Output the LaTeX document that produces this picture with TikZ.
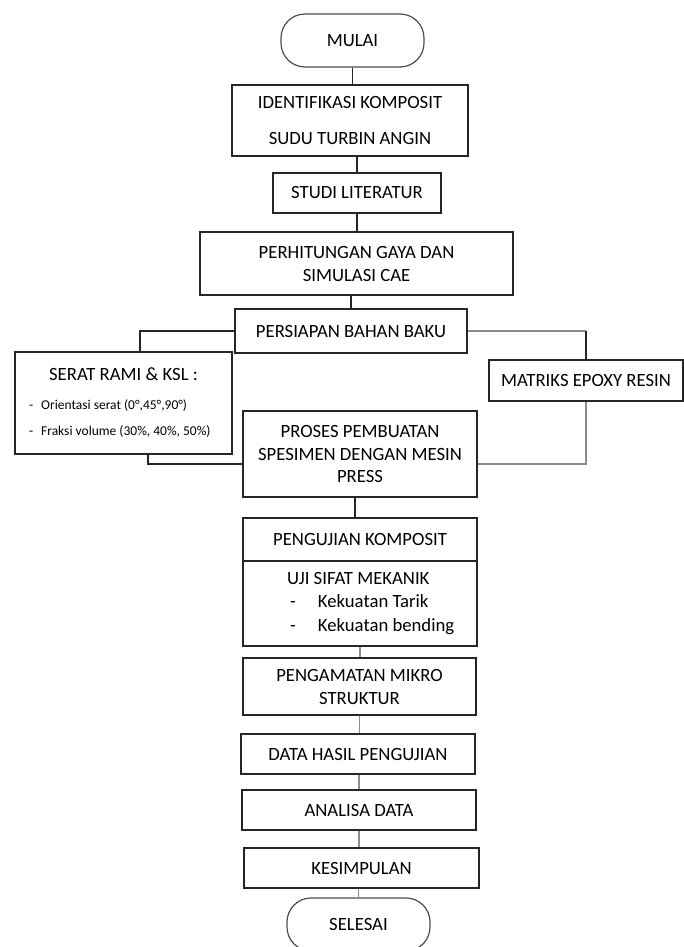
\documentclass[tikz,border=0pt]{standalone}
\usepackage{fontspec}
\setmainfont{Carlito}
\usetikzlibrary{calc}
\begin{document}
\begin{tikzpicture}[x=1pt,y=-1pt,
  box/.style={draw=black!85, line width=1.2pt, rectangle, inner sep=0pt, align=center, font=\fontsize{18.7}{23}\selectfont},
  term/.style={box, rounded corners=24pt, draw=black!70},
  ln/.style={line width=1.2pt, draw=black!85},
  gln/.style={line width=1.1pt, draw=black!45},
  bodytext/.style={inner sep=0pt, align=left, font=\fontsize{18.7}{23.5}\selectfont}
]
\useasboundingbox (0,0) rectangle (684,947);

\node[term, minimum width=143pt, minimum height=53pt] (mulai) at (352.5,40.5) {MULAI};
\node[box, minimum width=236pt, minimum height=71pt] (ident) at (350,120.5) {IDENTIFIKASI KOMPOSIT\\[13pt]SUDU TURBIN ANGIN};
\node[box, minimum width=168pt, minimum height=40pt] (studi) at (357,193) {STUDI LITERATUR};
\node[box, minimum width=313pt, minimum height=63pt] (hitung) at (356.5,263.5) {PERHITUNGAN GAYA DAN\\SIMULASI CAE};
\node[box, minimum width=232pt, minimum height=44pt] (siap) at (351,331) {PERSIAPAN BAHAN BAKU};
\node[box, minimum width=217pt, minimum height=102pt] (serat) at (123.5,403)
  {\parbox[c]{189pt}{{\centering\fontsize{18.7}{23}\selectfont SERAT RAMI \& KSL :\par}\vspace{3pt}%
   {\raggedright\fontsize{13.5}{26}\selectfont -\hspace{8pt}Orientasi serat (0°,45°,90°)\\
   -\hspace{8pt}Fraksi volume (30\%, 40\%, 50\%)\par}}};
\node[box, minimum width=194pt, minimum height=41pt] (matriks) at (586,380.5) {MATRIKS EPOXY RESIN};
\node[box, minimum width=234pt, minimum height=86pt, font=\fontsize{18.7}{22.5}\selectfont] (proses) at (360,454) {PROSES PEMBUATAN\\SPESIMEN DENGAN MESIN\\PRESS};
\node[box, minimum width=234pt, minimum height=43pt] (uji1) at (360,539.5) {PENGUJIAN KOMPOSIT};
\node[box, minimum width=234pt, minimum height=85pt] (uji2) at (360,603.5) {};
\node[bodytext, anchor=west] (ujitext) at (287,603.5) {UJI SIFAT MEKANIK\\\hspace*{3pt}-\hspace{22pt}Kekuatan Tarik\\\hspace*{3pt}-\hspace{22pt}Kekuatan bending};
\node[box, minimum width=233pt, minimum height=57pt] (amat) at (359.5,686.5) {PENGAMATAN MIKRO\\STRUKTUR};
\node[box, minimum width=234pt, minimum height=40pt] (data) at (358,754) {DATA HASIL PENGUJIAN};
\node[box, minimum width=234pt, minimum height=40pt] (analisa) at (359,810) {ANALISA DATA};
\node[box, minimum width=235pt, minimum height=40pt] (kes) at (361.5,868) {KESIMPULAN};
\node[term, minimum width=143pt, minimum height=53pt] (selesai) at (358.5,924.5) {SELESAI};

\draw[ln] (mulai.south) -- (mulai.south |- ident.north);
\draw[ln] (studi.north |- ident.south) -- (studi.north);
\draw[ln] (studi.south) -- (studi.south |- hitung.north);
\draw[ln] (siap.north |- hitung.south) -- (siap.north);
\draw[ln] (siap.west) -| ([xshift=16.5pt]serat.north);
\draw[gln] (siap.east) -- (siap.east -| matriks.north);
\draw[ln] (siap.east -| matriks.north) -- (matriks.north);
\draw[ln] ([xshift=24.5pt]serat.south) |- ([yshift=-10pt]proses.west);
\draw[gln] (matriks.south) |- ([yshift=-10pt]proses.east);
\draw[ln] ([xshift=-5pt]proses.south) -- ([xshift=-5pt]proses.south |- uji1.north);
\draw[gln] (uji2.south) -- (uji2.south |- amat.north);
\draw[gln] (amat.south) -- (amat.south |- data.north);
\draw[gln] (analisa.north |- data.south) -- (analisa.north);
\draw[gln] (analisa.south) -- (analisa.south |- kes.north);
\draw[gln] (selesai.north |- kes.south) -- (selesai.north);
\end{tikzpicture}
\end{document}
